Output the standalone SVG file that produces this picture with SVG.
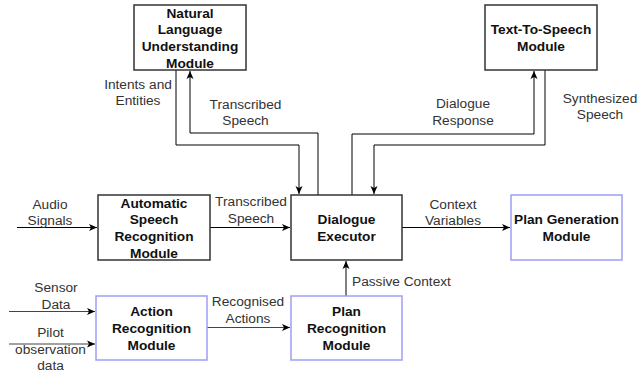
<svg xmlns="http://www.w3.org/2000/svg" width="638" height="373" viewBox="0 0 638 373">
<style>
.box{fill:#fff;stroke:#333;stroke-width:1.5}
.bbox{fill:#fff;stroke:#9f9ff5;stroke-width:1.5}
.t{font-family:"Liberation Sans",Arial,sans-serif;font-size:13.7px;font-weight:bold;fill:#111;text-anchor:middle}
.l{font-family:"Liberation Sans",Arial,sans-serif;font-size:13.7px;fill:#333;text-anchor:middle}
.c{fill:none;stroke:#000;stroke-width:1}
.g{fill:none;stroke:#444;stroke-width:1.2}
</style>
<defs>
<marker id="a" markerUnits="userSpaceOnUse" markerWidth="9" markerHeight="8" refX="8" refY="4" orient="auto">
<path d="M0,0.5 L8,4 L0,7.5 L2,4 Z" fill="#000"/>
</marker>
</defs>
<g id="connectors">
<polyline class="c" points="176,70 176,145 299,145 299,194" marker-end="url(#a)"/>
<polyline class="c" points="318,195 318,133 190,133 190,71" marker-end="url(#a)"/>
<polyline class="c" points="352,195 352,134 534,134 534,71" marker-end="url(#a)"/>
<polyline class="c" points="545,70 545,145 374,145 374,194" marker-end="url(#a)"/>
<line class="c" x1="17" y1="227.5" x2="97" y2="227.5" marker-end="url(#a)"/>
<line class="c" x1="210" y1="227.5" x2="290" y2="227.5" marker-end="url(#a)"/>
<line class="c" x1="402" y1="227.5" x2="510" y2="227.5" marker-end="url(#a)"/>
<line class="c" x1="346" y1="296" x2="346" y2="261" marker-end="url(#a)"/>
<line class="g" x1="9" y1="311.5" x2="95" y2="311.5" marker-end="url(#a)"/>
<line class="g" x1="9" y1="344" x2="95" y2="344" marker-end="url(#a)"/>
<line class="g" x1="207" y1="327.5" x2="290" y2="327.5" marker-end="url(#a)"/>
</g>
<g id="nlu">
<rect class="box" x="134" y="5" width="112" height="65"/>
<text class="t" x="190" y="17.5">Natural</text>
<text class="t" x="190" y="34.2">Language</text>
<text class="t" x="190" y="50.9">Understanding</text>
<text class="t" x="190" y="67.6">Module</text>
</g>
<g id="tts">
<rect class="box" x="485" y="5" width="112" height="65"/>
<text class="t" x="541" y="34.2">Text-To-Speech</text>
<text class="t" x="541" y="50.9">Module</text>
</g>
<g id="asr">
<rect class="box" x="98" y="195" width="112" height="65"/>
<text class="t" x="154" y="207.5">Automatic</text>
<text class="t" x="154" y="224.2">Speech</text>
<text class="t" x="154" y="240.9">Recognition</text>
<text class="t" x="154" y="257.6">Module</text>
</g>
<g id="de">
<rect class="box" x="291" y="195" width="111" height="65"/>
<text class="t" x="346.5" y="224.2">Dialogue</text>
<text class="t" x="346.5" y="240.9">Executor</text>
</g>
<g id="pg">
<rect class="bbox" x="511" y="195" width="111" height="65"/>
<text class="t" x="566.5" y="224.2">Plan Generation</text>
<text class="t" x="566.5" y="240.9">Module</text>
</g>
<g id="ar">
<rect class="bbox" x="96" y="296" width="111" height="64"/>
<text class="t" x="151.5" y="316.3">Action</text>
<text class="t" x="151.5" y="333">Recognition</text>
<text class="t" x="151.5" y="349.7">Module</text>
</g>
<g id="pr">
<rect class="bbox" x="291" y="296" width="111" height="64"/>
<text class="t" x="346.5" y="316.3">Plan</text>
<text class="t" x="346.5" y="333">Recognition</text>
<text class="t" x="346.5" y="349.7">Module</text>
</g>
<g id="labels">
<text class="l" x="138" y="88.5">Intents and</text>
<text class="l" x="138" y="105">Entities</text>
<text class="l" x="245.5" y="108.5">Transcribed</text>
<text class="l" x="245.5" y="125">Speech</text>
<text class="l" x="463" y="108">Dialogue</text>
<text class="l" x="463" y="124.5">Response</text>
<text class="l" x="600" y="102.5">Synthesized</text>
<text class="l" x="600" y="119">Speech</text>
<text class="l" x="50" y="208.5">Audio</text>
<text class="l" x="50" y="225">Signals</text>
<text class="l" x="251" y="206">Transcribed</text>
<text class="l" x="251" y="222.5">Speech</text>
<text class="l" x="453" y="208.5">Context</text>
<text class="l" x="453" y="225">Variables</text>
<text class="l" x="352" y="286" style="text-anchor:start">Passive Context</text>
<text class="l" x="56" y="292">Sensor</text>
<text class="l" x="56" y="308.5">Data</text>
<text class="l" x="50.5" y="337">Pilot</text>
<text class="l" x="50.5" y="353.5">observation</text>
<text class="l" x="50.5" y="370">data</text>
<text class="l" x="248" y="306">Recognised</text>
<text class="l" x="248" y="322.5">Actions</text>
</g>
</svg>
